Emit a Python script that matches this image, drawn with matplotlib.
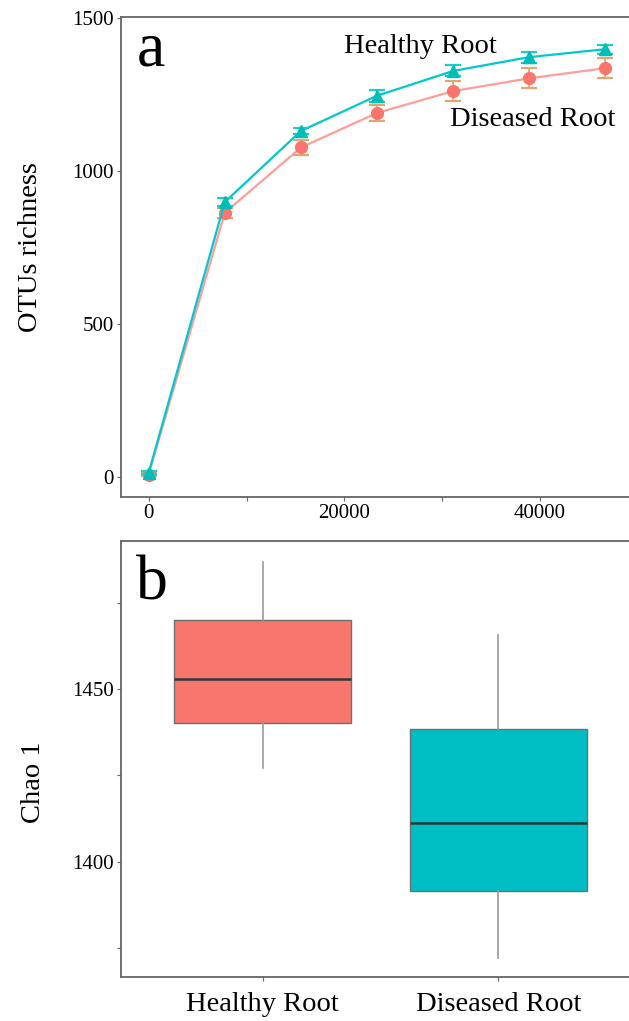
import matplotlib
matplotlib.use("Agg")
import matplotlib.pyplot as plt
from matplotlib.ticker import MultipleLocator

plt.rcParams['font.family'] = ['Liberation Serif', 'DejaVu Serif']

# ---- data: rarefaction curves (panel a) ----
depth = [0, 7780, 15560, 23340, 31120, 38900, 46680]
healthy_mean = [14, 898, 1130, 1245, 1326, 1371, 1397]
healthy_err = [5, 12, 11, 20, 18, 18, 15]
diseased_mean = [8, 863, 1076, 1189, 1260, 1302, 1335]
diseased_err = [5, 17, 25, 25, 32, 32, 32]

# ---- data: Chao 1 boxplot (panel b) ----
groups = ["Healthy Root", "Diseased Root"]
whisk_lo = [1427.0, 1372.1]
q1 = [1440.1, 1391.6]
med = [1452.8, 1411.1]
q3 = [1470.0, 1438.3]
whisk_hi = [1486.9, 1465.6]

W, H = 629, 1021
fig = plt.figure(figsize=(W / 100, H / 100), dpi=100)

def fax(l, t, r, b):
    return fig.add_axes([l / W, 1 - b / H, (r - l) / W, (b - t) / H])

spine_col = '#666666'
teal = '#00C8CF'
salmon = '#F8766D'

# ---------------- panel a ----------------
ax = fax(121, 17, 640, 497)
ax.plot(depth, diseased_mean, color='#FF9E99', lw=1.6, zorder=2)
ax.errorbar(depth, diseased_mean, yerr=diseased_err, fmt='none',
            ecolor='#E5A56E', elinewidth=1.3, capsize=5.5, capthick=1.6, zorder=3)
ax.plot(depth, diseased_mean, 'o', color=salmon, ms=8.5, zorder=4)
ax.plot(depth, healthy_mean, color=teal, lw=1.6, zorder=5)
ax.errorbar(depth, healthy_mean, yerr=healthy_err, fmt='none',
            ecolor='#1CCFC4', elinewidth=1.3, capsize=5.5, capthick=1.6, zorder=6)
ax.plot(depth, healthy_mean, '^', color='#00BDB8', ms=9, zorder=7)

ax.set_xlim(-2830, 50210)
ax.set_ylim(-65, 1502)
ax.set_xticks([0, 20000, 40000])
ax.xaxis.set_minor_locator(MultipleLocator(10000))
ax.set_yticks([0, 500, 1000, 1500])
ax.tick_params(axis='both', which='both', direction='out', length=3,
               width=0.8, color=spine_col, labelsize=15, pad=2)
for s in ax.spines.values():
    s.set_color(spine_col)
    s.set_linewidth(1.3)
fig.text(137 / W, 1 - 65 / H, 'a', fontsize=46, ha='left', va='baseline')
ax.text(27730, 1405, 'Healthy Root', fontsize=20.5, ha='center', va='center')
ax.text(30790, 1168, 'Diseased Root', fontsize=20.5, ha='left', va='center')
fig.text(31 / W, 1 - 247 / H, 'OTUs richness', rotation=90, fontsize=20.5,
         ha='center', va='center')

# ---------------- panel b ----------------
bx = fax(121, 541, 640, 977)
stats = []
for i, g in enumerate(groups):
    stats.append(dict(label=g, whislo=whisk_lo[i], q1=q1[i], med=med[i],
                      q3=q3[i], whishi=whisk_hi[i], fliers=[]))
bp = bx.bxp(stats, positions=[1, 2], widths=0.75, patch_artist=True,
            showcaps=False, showfliers=False,
            boxprops=dict(edgecolor='#6f6f6f', linewidth=1.0),
            whiskerprops=dict(color='#9a9a9a', linewidth=1.2),
            medianprops=dict(color='#2a3a3a', linewidth=1.8))
for patch, c in zip(bp['boxes'], [salmon, '#00BFC4']):
    patch.set_facecolor(c)

bx.set_xlim(0.4, 2.6)
bx.set_ylim(1366.6, 1492.9)
bx.set_yticks([1400, 1450])
bx.yaxis.set_minor_locator(MultipleLocator(25))
bx.set_xticks([1, 2])
bx.set_xticklabels(groups, fontsize=20.5)
bx.tick_params(axis='y', which='both', direction='out', length=3,
               width=0.8, color=spine_col, labelsize=15, pad=2)
bx.tick_params(axis='x', direction='out', length=3, width=0.8,
               color=spine_col, pad=8)
for s in bx.spines.values():
    s.set_color(spine_col)
    s.set_linewidth(1.3)
fig.text(136 / W, 1 - 600 / H, 'b', fontsize=46, ha='left', va='baseline')
fig.text(33 / W, 1 - 782 / H, 'Chao 1', rotation=90, fontsize=20.5,
         ha='center', va='center')

fig.savefig('out.png', dpi=100)
